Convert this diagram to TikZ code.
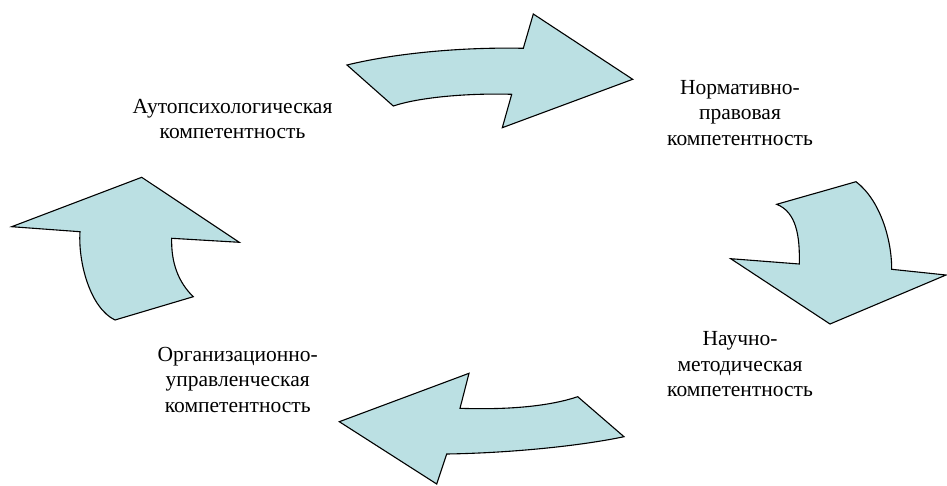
\documentclass[tikz,border=0pt]{standalone}
\usepackage{fontspec}
\setmainfont{Liberation Serif}
\definecolor{arrowfill}{RGB}{187,224,227}
\tikzset{
  bigarrow/.style={draw=black, fill=arrowfill, line width=1.1pt, line join=miter},
  lbl/.style={align=center, inner sep=0pt, font=\fontsize{21.5}{25.5}\selectfont}
}
\begin{document}
\begin{tikzpicture}[x=1pt,y=-1pt]
\useasboundingbox (0,0) rectangle (947,485);
% top arrow (right)
\draw[bigarrow] (347,65) .. controls (400,52) and (470,47) .. (523.3,48.3)
  -- (533.3,14) -- (632.7,79.3) -- (502.3,127.7) -- (511.7,94.3)
  .. controls (470,93) and (420,97) .. (393.3,106) -- cycle;
% right arrow (down)
\draw[bigarrow] (776.7,204.3) -- (856,181.7)
  .. controls (880,200) and (891.7,239) .. (891.7,269.3)
  -- (946,275) -- (830,324) -- (730.7,258.7) -- (799.3,264)
  .. controls (800,235) and (796,212) .. cycle;
% bottom arrow (left)
\draw[bigarrow] (577.7,396.7) -- (624,436.7)
  .. controls (580,446) and (510,453) .. (446.7,454)
  -- (436.7,484) -- (339.3,421.7) -- (469,373.3) -- (460,408.3)
  .. controls (510,410) and (550,406) .. cycle;
% left arrow (up)
\draw[bigarrow] (193.3,296.7) -- (115,320)
  .. controls (90,308) and (78,262) .. (80,231.7)
  -- (11.7,226.7) -- (141.7,177.3) -- (239.3,242.3) -- (171.7,238.3)
  .. controls (171,262) and (178,282) .. cycle;
% labels
\node[lbl] (auto) at (232.5,119.0) {Аутопсихологическая\\компетентность};
\node[lbl] (norm) at (740,112.7) {Нормативно-\\правовая\\компетентность};
\node[lbl] (nauch) at (740,364.1) {Научно-\\методическая\\компетентность};
\node[lbl] (org) at (237.7,379.5) {Организационно-\\управленческая\\компетентность};
\end{tikzpicture}
\end{document}
